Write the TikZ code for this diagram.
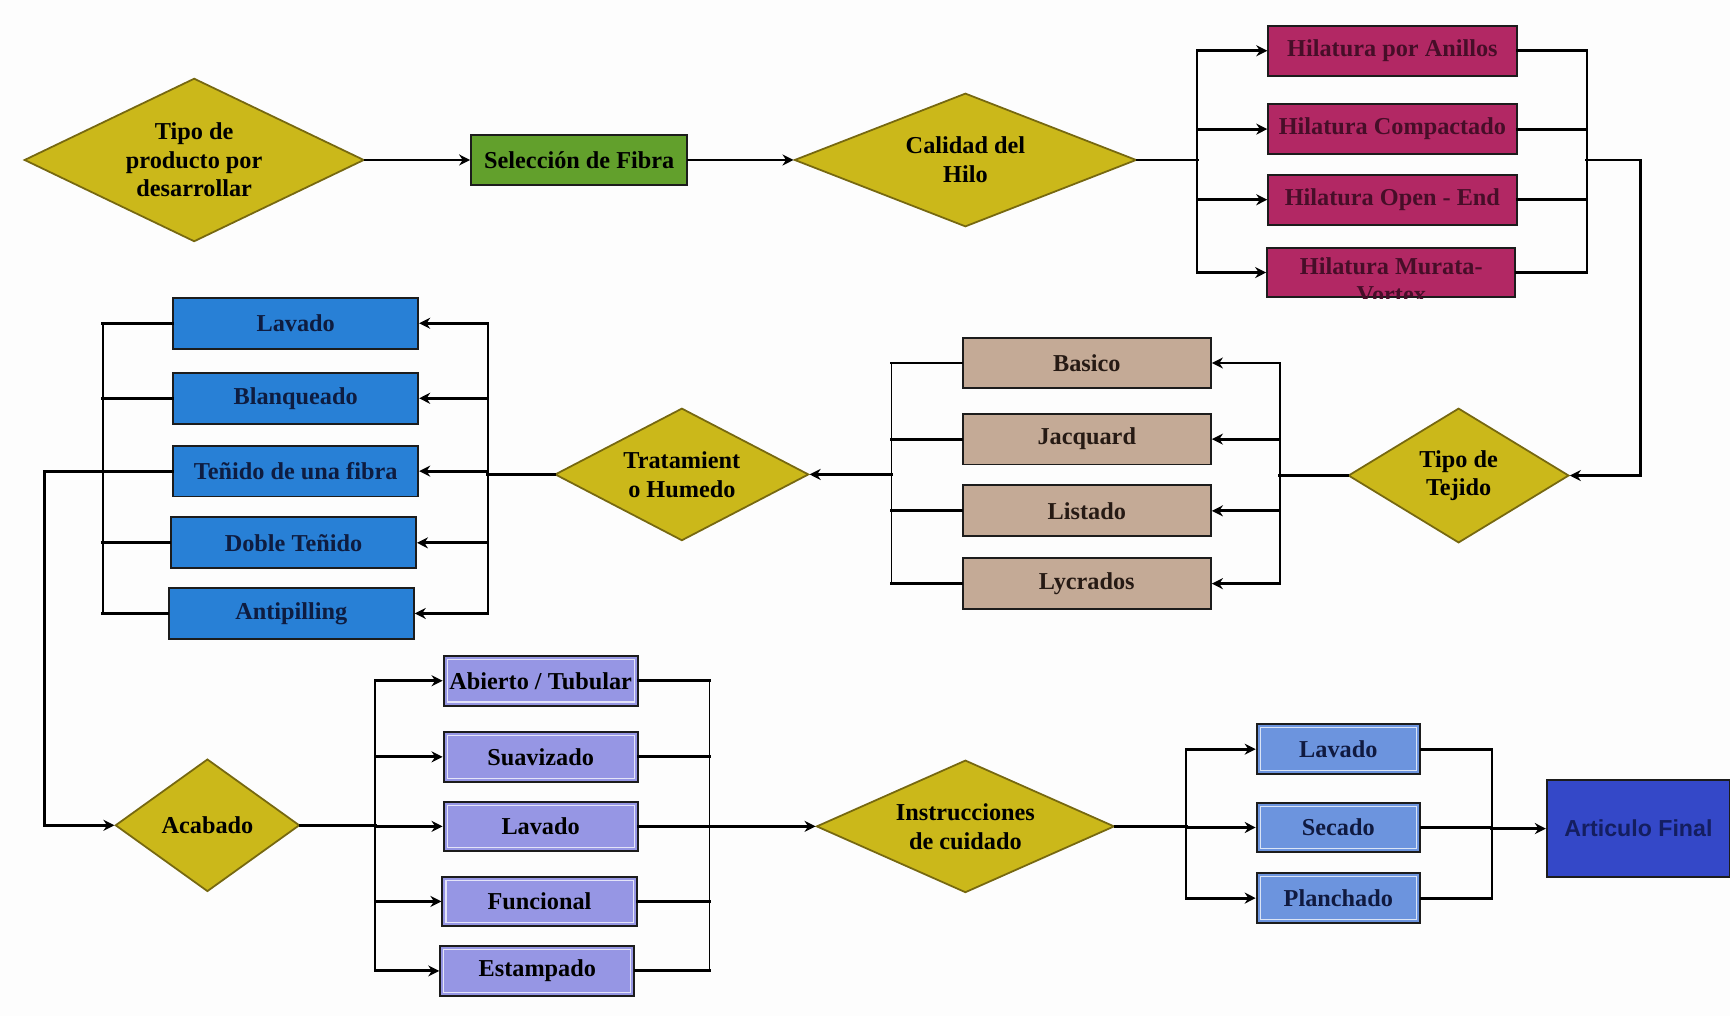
\documentclass[tikz,border=0pt]{standalone}
\usepackage{fontspec}
\setmainfont{Liberation Serif}
\setsansfont{Liberation Sans}
\usetikzlibrary{shapes.geometric,arrows.meta}

\definecolor{paper}{RGB}{253,253,253}
\definecolor{diamfill}{RGB}{203,184,26}
\definecolor{diamline}{RGB}{118,104,16}
\definecolor{fibfill}{RGB}{98,160,44}
\definecolor{hilfill}{RGB}{178,40,100}
\definecolor{hiltext}{RGB}{70,14,40}
\definecolor{tejfill}{RGB}{196,170,150}
\definecolor{tejtext}{RGB}{38,26,20}
\definecolor{humfill}{RGB}{40,128,214}
\definecolor{humtext}{RGB}{14,28,64}
\definecolor{acafill}{RGB}{150,150,228}
\definecolor{cuifill}{RGB}{108,148,222}
\definecolor{cuitext}{RGB}{16,26,64}
\definecolor{finfill}{RGB}{52,72,200}
\definecolor{fintext}{RGB}{20,30,96}
\definecolor{edge}{RGB}{28,28,28}

\tikzset{
  base/.style={font=\bfseries\fontsize{11}{12.5}\selectfont, align=center, inner sep=0pt},
  dec/.style={base, font=\bfseries\fontsize{11}{13}\selectfont, diamond, shape aspect=2,
              draw=diamline, line width=0.8pt, fill=diamfill, text=black},
  box/.style={base, rectangle, draw=edge, line width=0.9pt, minimum height=22.5pt},
  inner line/.style={path picture={
      \draw[white, opacity=0.75, line width=0.5pt]
        ([shift={(1.6pt,1.6pt)}]path picture bounding box.south west) rectangle
        ([shift={(-1.6pt,-1.6pt)}]path picture bounding box.north east);}},
  fibbox/.style={box, fill=fibfill, minimum width=98pt},
  hilbox/.style={box, fill=hilfill, text=hiltext, minimum width=112.5pt},
  tejbox/.style={box, fill=tejfill, text=tejtext, minimum width=112.5pt, minimum height=23pt},
  humbox/.style={box, fill=humfill, text=humtext, minimum width=111pt, minimum height=23pt},
  acabox/.style={box, fill=acafill, text=black, minimum width=88pt, inner line},
  cuibox/.style={box, fill=cuifill, text=cuitext, minimum width=74pt, inner line},
  finbox/.style={box, fill=finfill, text=fintext,
                 font=\sffamily\bfseries\fontsize{10.5}{12.5}\selectfont,
                 minimum width=83pt, minimum height=44pt},
  link/.style={draw=black, line width=1.3pt, line cap=rect},
  bus/.style={draw=black, line width=0.85pt, line cap=rect},
  flow/.style={link, -{Stealth[length=5pt,width=5pt]}}
}

\begin{document}
\begin{tikzpicture}[x=0.5pt,y=-0.5pt]
  \useasboundingbox[fill=paper] (0,0) rectangle (1568,921);

  % ---- main line: product type, fibre, yarn quality
  \node[dec, minimum width=154pt, minimum height=74pt] (d1) at (176,145)
       {Tipo de\\producto por\\desarrollar};
  \node[fibbox] (sel) at (525,145) {Selección de Fibra};
  \node[dec, minimum width=155pt, minimum height=60.5pt] (d2) at (875,145)
       {Calidad del\\Hilo};

  % ---- spinning options
  \node[hilbox] (m1) at (1262,46) {Hilatura por Anillos};
  \node[hilbox] (m2) at (1262,117) {Hilatura Compactado};
  \node[hilbox] (m3) at (1262,181) {Hilatura Open - End};
  \node[hilbox] (m4) at (1261,247) {};
  \begin{scope}
    \clip (m4.south west) rectangle (m4.north east);
    \node[base, text=hiltext, yshift=-3.5pt] (m4t) at (m4) {Hilatura Murata-\\Vortex};
  \end{scope}
  \node[dec, minimum width=100pt, minimum height=61pt] (d3) at (1322,431)
       {Tipo de\\Tejido};

  % ---- fabric types
  \node[tejbox] (t1) at (985,329) {Basico};
  \node[tejbox] (t2) at (985,398) {Jacquard};
  \node[tejbox] (t3) at (985,463) {Listado};
  \node[tejbox] (t4) at (985,529) {Lycrados};
  \node[dec, minimum width=115pt, minimum height=60pt] (d4) at (618,430)
       {Tratamient\\o Humedo};

  % ---- wet processes
  \node[humbox] (h1) at (268,293) {Lavado};
  \node[humbox] (h2) at (268,361) {Blanqueado};
  \node[humbox] (h3) at (268,427) {Teñido de una fibra};
  \node[humbox] (h4) at (266,492) {Doble Teñido};
  \node[humbox] (h5) at (264,556) {Antipilling};

  % ---- finishing
  \node[dec, minimum width=83.5pt, minimum height=60pt] (d5) at (188,748) {Acabado};
  \node[acabox] (a1) at (490,617) {Abierto / Tubular};
  \node[acabox] (a2) at (490,686) {Suavizado};
  \node[acabox] (a3) at (490,749) {Lavado};
  \node[acabox] (a4) at (489,817) {Funcional};
  \node[acabox] (a5) at (487,880) {Estampado};
  \node[dec, minimum width=135pt, minimum height=60pt] (d6) at (875,749)
       {Instrucciones\\de cuidado};

  % ---- care instructions and final article
  \node[cuibox] (c1) at (1213,679) {Lavado};
  \node[cuibox] (c2) at (1213,750) {Secado};
  \node[cuibox] (c3) at (1213,814) {Planchado};
  \node[finbox] (fin) at (1485,751) {Articulo Final};

  % ---- bus positions
  \coordinate (hbL) at (1085,0);
  \coordinate (hbR) at (1438,0);
  \coordinate (ret) at (1487,145);
  \coordinate (tR) at (1160,0);
  \coordinate (tL) at (808,0);
  \coordinate (hR) at (442,0);
  \coordinate (hL) at (93,0);
  \coordinate (hO) at (40,0);
  \coordinate (aL) at (340,0);
  \coordinate (aR) at (643,0);
  \coordinate (cL) at (1075,0);
  \coordinate (cR) at (1352,0);

  % ---- connectors: top row
  \draw[flow] (d1.east) -- (sel.west);
  \draw[flow] (sel.east) -- (d2.west);
  \draw[link] (d2.east) -- (d2.east -| hbL);
  \draw[bus] (hbL |- m1.west) -- (hbL |- m4.west);
  \foreach \m in {m1,m2,m3,m4} {
    \draw[flow] (hbL |- \m.west) -- (\m.west);
    \draw[link] (\m.east) -- (hbR |- \m.east);
  }
  \draw[bus] (hbR |- m1.east) -- (hbR |- m4.east);
  \draw[flow] (hbR |- ret) -- (ret) |- (d3.east);

  % ---- connectors: fabric types
  \draw[link] (d3.west) -- (d3.west -| tR);
  \draw[bus] (tR |- t1.east) -- (tR |- t4.east);
  \draw[bus] (tL |- t1.west) -- (tL |- t4.west);
  \foreach \t in {t1,t2,t3,t4} {
    \draw[flow] (tR |- \t.east) -- (\t.east);
    \draw[link] (\t.west) -- (tL |- \t.west);
  }
  \draw[flow] (tL |- d4.east) -- (d4.east);

  % ---- connectors: wet processes
  \draw[link] (d4.west) -- (d4.west -| hR);
  \draw[bus] (hR |- h1.east) -- (hR |- h5.east);
  \draw[bus] (hL |- h1.west) -- (hL |- h5.west);
  \foreach \h in {h1,h2,h3,h4,h5} {
    \draw[flow] (hR |- \h.east) -- (\h.east);
  }
  \foreach \h in {h1,h2,h4,h5} {
    \draw[link] (\h.west) -- (hL |- \h.west);
  }
  \draw[flow] (h3.west) -| (hO |- d5.west) -- (d5.west);

  % ---- connectors: finishing
  \draw[link] (d5.east) -- (d5.east -| aL);
  \draw[bus] (aL |- a1.west) -- (aL |- a5.west);
  \draw[bus] (aR |- a1.east) -- (aR |- a5.east);
  \foreach \a in {a1,a2,a3,a4,a5} {
    \draw[flow] (aL |- \a.west) -- (\a.west);
    \draw[link] (\a.east) -- (aR |- \a.east);
  }
  \draw[flow] (aR |- d6.west) -- (d6.west);

  % ---- connectors: care instructions
  \draw[link] (d6.east) -- (d6.east -| cL);
  \draw[bus] (cL |- c1.west) -- (cL |- c3.west);
  \draw[bus] (cR |- c1.east) -- (cR |- c3.east);
  \foreach \c in {c1,c2,c3} {
    \draw[flow] (cL |- \c.west) -- (\c.west);
    \draw[link] (\c.east) -- (cR |- \c.east);
  }
  \draw[flow] (cR |- fin.west) -- (fin.west);
\end{tikzpicture}
\end{document}
